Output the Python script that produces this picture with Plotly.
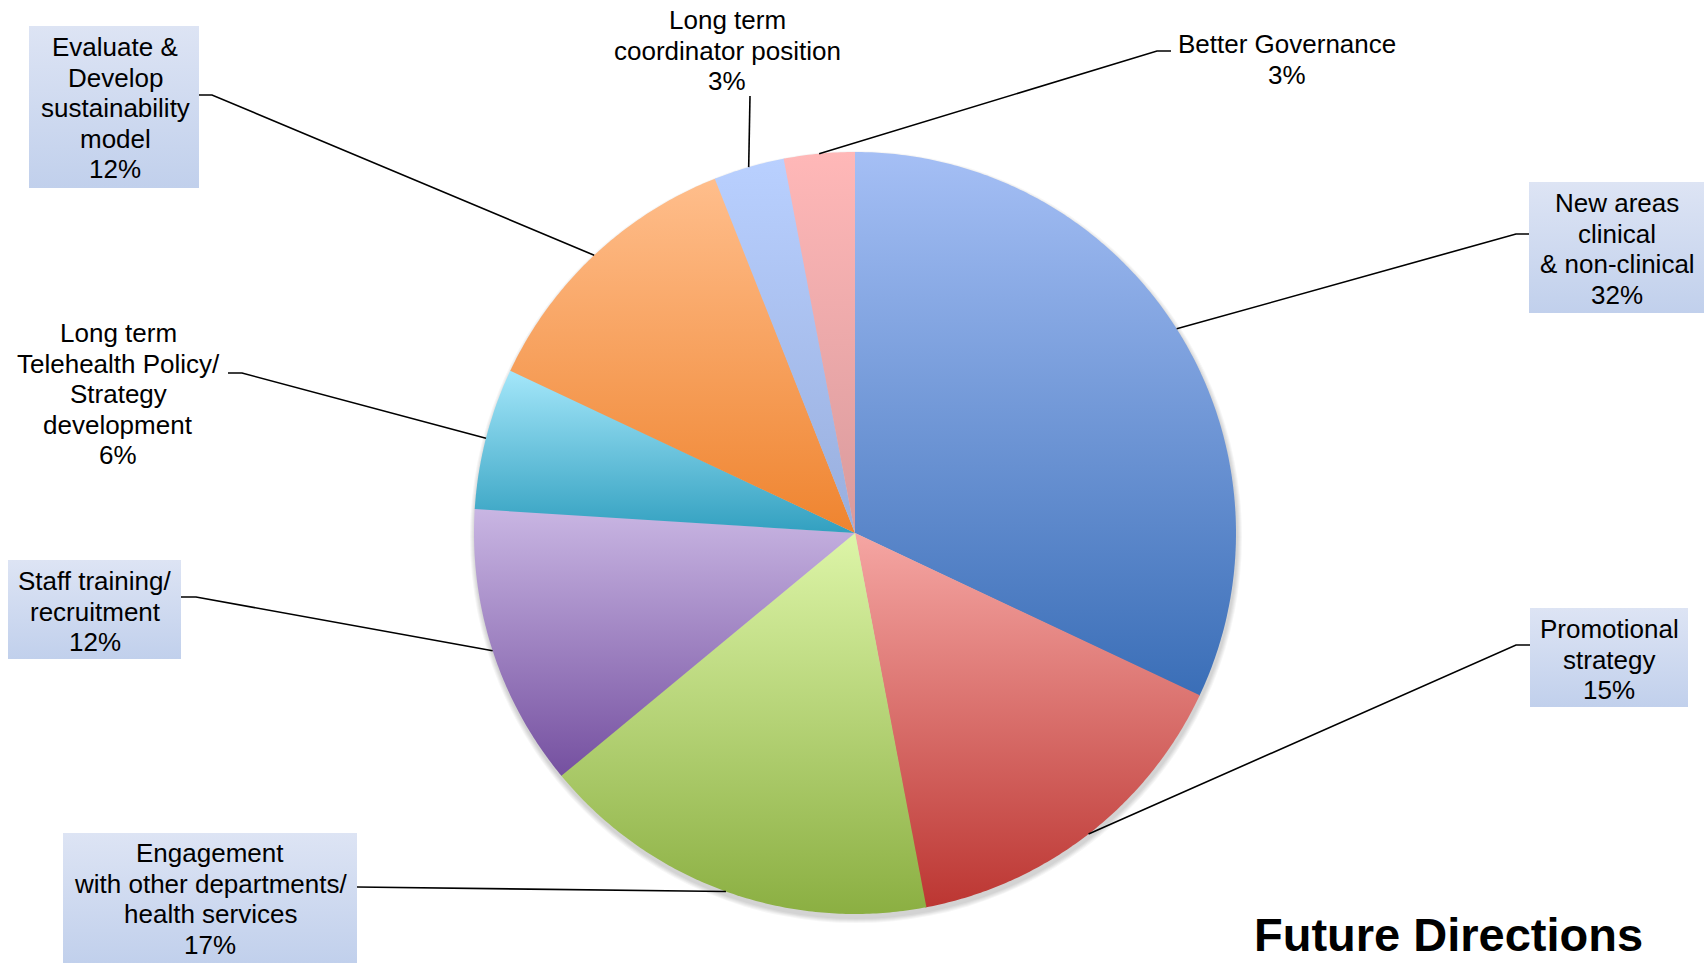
import numpy as np
import plotly.graph_objects as go

# ---- data -------------------------------------------------------------
categories = [
    "New areas clinical & non-clinical",
    "Promotional strategy",
    "Engagement with other departments/ health services",
    "Staff training/ recruitment",
    "Long term Telehealth Policy/ Strategy development",
    "Evaluate & Develop sustainability model",
    "Long term coordinator position",
    "Better Governance",
]
values = [32, 15, 17, 12, 6, 12, 3, 3]
label_lines = [
    ["New areas", "clinical", "& non-clinical"],
    ["Promotional", "strategy"],
    ["Engagement", "with other departments/", "health services"],
    ["Staff training/", "recruitment"],
    ["Long term", "Telehealth Policy/", "Strategy", "development"],
    ["Evaluate &", "Develop", "sustainability", "model"],
    ["Long term", "coordinator position"],
    ["Better Governance"],
]
title_text = "Future Directions"

# ---- styling ----------------------------------------------------------
W, H = 1708, 963
CX, CY, R = 855, 533, 381
FONT = "Liberation Sans, Arial, sans-serif"
LABEL_SIZE = 26
LINE_STEP = 30.6

# top / bottom colours of each slice's vertical gradient
top_colors = ["#A5BFF5", "#F5A6A3", "#DDF5A8", "#C9B6E3", "#A5E7FA", "#FFBE8C", "#B9D0FF", "#FFB8B8"]
bottom_colors = ["#3A6EB7", "#BC3632", "#8BAF42", "#7550A0", "#32A0C0", "#EF842F", "#98AEDD", "#D99A9C"]
box_top, box_bottom = "#DDE4F4", "#C1D0EC"

# label placement: centre x, first-line y, box (x0, x1, y0, y1) or None, leader start points
placements = [
    dict(cx=1617, y=203, box=(1529, 1704, 182, 313), lead=[(1529, 234), (1516, 234)]),
    dict(cx=1609, y=629, box=(1530, 1688, 608, 707), lead=[(1530, 645), (1516, 645)]),
    dict(cx=210, y=853, box=(63, 357, 833, 963), lead=[(357, 887)]),
    dict(cx=95, y=581, box=(8, 181, 560, 659), lead=[(181, 597), (196, 597)]),
    dict(cx=118, y=333, box=None, lead=[(228, 373), (242, 373)]),
    dict(cx=115, y=47, box=(29, 199, 26, 188), lead=[(199, 95), (212, 95)]),
    dict(cx=727, y=20, box=None, lead=[(750, 96)]),
    dict(cx=1287, y=44, box=None, lead=[(1171, 51), (1157, 51)]),
]

fig = go.Figure()

# ---- pie slices (clockwise from 12 o'clock) ---------------------------
total = float(sum(values))
cum = np.concatenate([[0.0], np.cumsum(values)]) / total
overlap = 0.15 / 360.0  # small overlap to hide anti-aliasing seams
mid_points = []
for i, v in enumerate(values):
    a0, a1 = cum[i], cum[i + 1]
    a1e = min(a1 + overlap, 1.0) if i < len(values) - 1 else a1
    n = max(int((a1e - a0) * 720), 8)
    t = np.linspace(a0, a1e, n) * 2 * np.pi
    xs = np.concatenate([[CX], CX + R * np.sin(t), [CX]])
    ys = np.concatenate([[CY], CY - R * np.cos(t), [CY]])
    ytop, ybot = ys.min(), ys.max()
    fig.add_trace(go.Scatter(
        x=xs, y=ys, mode="none", fill="toself",
        fillgradient=dict(type="vertical",
                          colorscale=[[0, top_colors[i]], [1, bottom_colors[i]]],
                          start=ytop, stop=ybot),
        name=categories[i], hoverinfo="name", showlegend=False,
    ))
    tm = (a0 + a1) / 2 * 2 * np.pi
    mid_points.append((CX + R * np.sin(tm), CY - R * np.cos(tm)))

# ---- label boxes, leader lines and text ------------------------------
annotations = []
for i, p in enumerate(placements):
    if p["box"] is not None:
        x0, x1, y0, y1 = p["box"]
        fig.add_trace(go.Scatter(
            x=[x0, x1, x1, x0, x0], y=[y0, y0, y1, y1, y0], mode="none", fill="toself",
            fillgradient=dict(type="vertical", colorscale=[[0, box_top], [1, box_bottom]],
                              start=y0, stop=y1),
            hoverinfo="skip", showlegend=False,
        ))
    pts = p["lead"] + [mid_points[i]]
    fig.add_trace(go.Scatter(
        x=[q[0] for q in pts], y=[q[1] for q in pts], mode="lines",
        line=dict(color="black", width=1.6), hoverinfo="skip", showlegend=False,
    ))
    lines = label_lines[i] + [f"{values[i]}%"]
    for k, txt in enumerate(lines):
        annotations.append(dict(
            x=p["cx"], y=p["y"] + k * LINE_STEP, xref="x", yref="y", text=txt,
            showarrow=False, xanchor="center", yanchor="middle",
            font=dict(family=FONT, size=LABEL_SIZE, color="black"),
        ))

annotations.append(dict(
    x=1448, y=962, xref="x", yref="y", text=f"<b>{title_text}</b>", showarrow=False,
    xanchor="center", yanchor="bottom", borderpad=0,
    font=dict(family=FONT, size=47, color="black"),
))

# soft shadow under the pie
shapes = []
for k in range(5):
    rr = R + 1 + k
    shapes.append(dict(type="circle", xref="x", yref="y", layer="below",
                       x0=CX + 1 - rr, x1=CX + 1 + rr, y0=CY + 4 - rr, y1=CY + 4 + rr,
                       line=dict(width=0), fillcolor="rgba(0,0,0,0.035)"))

fig.update_layout(
    width=W, height=H,
    margin=dict(l=0, r=0, t=0, b=0),
    paper_bgcolor="white", plot_bgcolor="white",
    xaxis=dict(range=[0, W], visible=False, fixedrange=True),
    yaxis=dict(range=[H, 0], visible=False, fixedrange=True),
    annotations=annotations, shapes=shapes,
    showlegend=False,
)

fig.write_html("out.html")
